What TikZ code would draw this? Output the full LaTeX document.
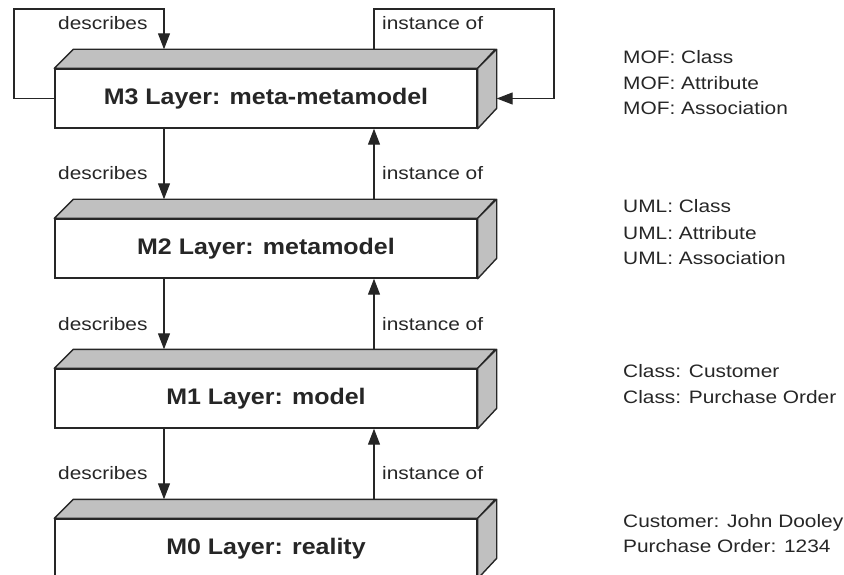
\documentclass[tikz,border=0pt]{standalone}
\usepackage{fontspec}
\setmainfont{Liberation Sans}
\newfontfamily\lblfont[FakeStretch=1.16]{Liberation Sans}
\newfontfamily\layerfont[FakeStretch=1.11]{Liberation Sans}
\usetikzlibrary{arrows.meta,calc}
\definecolor{ink}{HTML}{262626}
\definecolor{face}{HTML}{C0C0C0}

% top and right faces of a layer block, plus helper points
\newcommand\layerfaces[1]{%
  \filldraw[facefill] (#1.north west) -- ++(19,-19) -- ++(422,0) -- (#1.north east) -- cycle;
  \filldraw[facefill] (#1.north east) -- ++(19,-19) -- ++(0,59) -- (#1.south east) -- cycle;
  \coordinate (#1-back) at ($(#1.north west)+(19,-19)$);
  \coordinate (#1-side) at ($(#1.east)+(19,0)$);
}

\begin{document}
\begin{tikzpicture}[x=1pt,y=-1pt,
  layer/.style={draw=ink, line width=1.4pt, fill=white, minimum width=422pt,
    minimum height=59pt, inner sep=0pt, text=ink,
    font=\layerfont\bfseries\fontsize{22.5}{27}\selectfont},
  facefill/.style={fill=face, draw=ink, line width=1.4pt, line join=round},
  link/.style={draw=ink, line width=1.2pt, -{Triangle[length=16pt,width=12pt]}},
  lbl/.style={font=\lblfont\fontsize{18}{22}\selectfont, text=ink,
    inner sep=0pt, anchor=base west},
]
\useasboundingbox (0,0) rectangle (844,575);
\clip (0,0) rectangle (844,575);

% layer blocks
\node[layer] (m3) at (266,98.5)  {M3 Layer: meta-metamodel};
\layerfaces{m3}
\node[layer] (m2) at (266,248.5) {M2 Layer: metamodel};
\layerfaces{m2}
\node[layer] (m1) at (266,398.5) {M1 Layer: model};
\layerfaces{m1}
\node[layer] (m0) at (266,548.5) {M0 Layer: reality};
\layerfaces{m0}

% columns of the two connector kinds
\coordinate (dcol) at (164,0);
\coordinate (icol) at (374,0);
\coordinate (lx) at (14,9);
\coordinate (rx) at (554,9);

% self loops of M3
\draw[link] (m3.west) -| (lx) -| (m3-back -| dcol);
\draw[link] (m3-back -| icol) |- (rx) |- (m3-side);
\node[lbl] (d33) at (58,30)  {describes};
\node[lbl] (i33) at (382,30) {instance of};

% between layers
\draw[link] (m3.south -| dcol) -- (m2-back -| dcol);
\draw[link] (m2-back -| icol) -- (m3.south -| icol);
\node[lbl] (d32) at (58,180)  {describes};
\node[lbl] (i32) at (382,180) {instance of};

\draw[link] (m2.south -| dcol) -- (m1-back -| dcol);
\draw[link] (m1-back -| icol) -- (m2.south -| icol);
\node[lbl] (d21) at (58,330)  {describes};
\node[lbl] (i21) at (382,330) {instance of};

\draw[link] (m1.south -| dcol) -- (m0-back -| dcol);
\draw[link] (m0-back -| icol) -- (m1.south -| icol);
\node[lbl] (d10) at (58,479)  {describes};
\node[lbl] (i10) at (382,479) {instance of};

% examples per layer
\node[lbl] (mof1) at (623,64)  {MOF: Class};
\node[lbl] (mof2) at (623,89.5){MOF: Attribute};
\node[lbl] (mof3) at (623,115) {MOF: Association};
\node[lbl] (uml1) at (623,213) {UML: Class};
\node[lbl] (uml2) at (623,239) {UML: Attribute};
\node[lbl] (uml3) at (623,264) {UML: Association};
\node[lbl] (cls1) at (623,377) {Class: Customer};
\node[lbl] (cls2) at (623,403) {Class: Purchase Order};
\node[lbl] (obj1) at (623,527) {Customer: John Dooley};
\node[lbl] (obj2) at (623,552) {Purchase Order: 1234};
\end{tikzpicture}
\end{document}
